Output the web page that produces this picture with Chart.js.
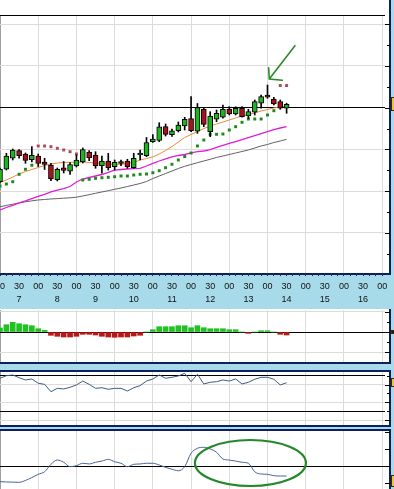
<!DOCTYPE html>
<html>
<head>
<meta charset="utf-8">
<script src="https://cdn.jsdelivr.net/npm/chart.js@4.4.1/dist/chart.umd.min.js"></script>
<style>
    html, body { margin: 0; padding: 0; }
    body {
        width: 394px; height: 489px; overflow: hidden; position: relative;
        background: #a8dbea;
    }
    .panel {
        position: absolute; left: 0; width: 389px;
        background: #fff; border-right: 2px solid #0d1f5c;
    }
    canvas { position: absolute; left: 0; }
</style>
</head>
<body>
<div class="panel" style="top:0;height:273px;border-bottom:2px solid #0d1f5c"></div>
<div class="panel" style="top:309px;height:53px;border-bottom:2px solid #0d1f5c"></div>
<div class="panel" style="top:370px;height:53px;border-top:2px solid #0d1f5c;border-bottom:2px solid #0d1f5c"></div>
<div class="panel" style="top:429px;height:60px;border-top:2px solid #0d1f5c"></div>

<canvas id="priceChart" width="394" height="309" style="top:0"></canvas>
<canvas id="macdChart" width="394" height="52" style="top:310px"></canvas>
<canvas id="rsiChart" width="394" height="53" style="top:372px"></canvas>
<canvas id="oscChart" width="394" height="58" style="top:431px"></canvas>

<script>
// Dữ liệu nến (mỗi nến 10 phút, index 0..45)
const opens  = [82.25, 85.23, 87.87, 89.69, 88.90, 87.55, 88.42, 86.98, 86.21, 82.73, 85.61, 84.77, 86.02, 86.98, 89.38, 88.66, 86.09, 87.22, 85.85, 86.86, 87.22, 85.61, 88.66, 88.49, 91.85, 92.13, 95.49, 93.53, 94.48, 95.61, 97.41, 94.36, 99.62, 94.24, 97.22, 97.70, 99.69, 98.49, 99.86, 98.01, 98.90, 101.06, 102.69, 102.09, 101.44, 99.86];
const highs  = [85.54, 89.07, 90.10, 89.98, 89.14, 90.70, 88.90, 87.87, 86.67, 85.54, 87.10, 86.81, 88.66, 90.34, 89.69, 89.45, 88.42, 89.07, 87.46, 87.46, 87.63, 89.07, 89.86, 92.85, 93.57, 96.40, 96.09, 94.89, 96.57, 97.70, 102.69, 101.01, 99.86, 99.04, 99.45, 100.65, 100.24, 100.24, 100.24, 99.62, 101.85, 103.05, 105.44, 102.49, 101.85, 101.06];
const lows   = [81.94, 85.06, 87.46, 87.87, 86.67, 86.98, 85.90, 85.18, 82.49, 82.42, 84.34, 84.03, 85.78, 86.74, 87.29, 85.47, 84.27, 85.06, 85.06, 86.09, 85.47, 85.47, 87.46, 88.25, 91.65, 91.85, 93.21, 93.09, 94.17, 94.65, 94.24, 93.86, 95.44, 93.05, 96.64, 97.46, 98.25, 98.25, 97.70, 97.46, 98.25, 99.86, 102.25, 100.65, 99.62, 98.66];
const closes = [85.23, 88.42, 89.86, 88.49, 87.34, 88.59, 86.62, 86.38, 82.90, 85.23, 84.94, 86.33, 87.46, 89.93, 87.94, 86.02, 87.22, 85.61, 86.91, 86.62, 85.85, 87.87, 88.90, 91.65, 92.49, 95.44, 93.62, 94.46, 95.85, 97.22, 94.48, 100.05, 96.02, 98.01, 98.66, 99.62, 98.49, 99.86, 97.84, 99.04, 101.44, 102.64, 102.52, 100.89, 99.86, 100.82];

// Các đường trung bình
const maFast = [82.11, 82.66, 83.38, 84.10, 84.70, 85.18, 85.66, 86.14, 86.50, 86.74, 86.86, 86.91, 86.91, 86.98, 86.86, 86.74, 86.62, 86.50, 86.43, 86.43, 86.62, 86.86, 87.46, 87.82, 88.18, 88.90, 89.74, 90.70, 91.77, 92.85, 93.57, 94.29, 95.01, 95.61, 96.09, 96.57, 97.05, 97.53, 98.01, 98.37, 98.73, 99.21, 99.57, 99.93, 100.17, 100.41];
const maMid  = [75.47, 76.07, 76.60, 77.15, 77.63, 78.18, 78.71, 79.19, 79.79, 80.26, 80.62, 81.10, 82.18, 82.90, 83.26, 83.62, 83.98, 84.51, 85.01, 85.18, 85.30, 85.40, 85.47, 86.02, 86.67, 87.22, 87.70, 88.18, 88.54, 88.78, 89.14, 89.45, 89.62, 89.93, 90.46, 90.94, 91.42, 91.89, 92.37, 92.85, 93.33, 93.81, 94.29, 94.72, 95.13, 95.44];
const maSlow = [76.26, 76.55, 76.86, 77.15, 77.43, 77.67, 77.87, 77.99, 78.11, 78.20, 78.30, 78.39, 78.54, 78.83, 79.14, 79.47, 79.79, 80.10, 80.43, 80.74, 81.10, 81.46, 81.82, 82.30, 83.02, 83.62, 84.22, 84.82, 85.42, 85.95, 86.38, 86.81, 87.22, 87.63, 88.06, 88.42, 88.78, 89.14, 89.50, 89.86, 90.34, 90.82, 91.18, 91.65, 92.01, 92.42];

// Parabolic SAR
const sar = [81.22, 81.70, 82.25, 84.03, 85.23, 86.19, 90.82, 90.82, 90.65, 90.26, 89.86, 89.45, 88.90, 82.66, 82.83, 83.07, 83.21, 83.31, 83.45, 83.62, 83.62, 83.86, 84.03, 84.10, 84.41, 84.89, 85.61, 86.43, 87.46, 88.30, 89.14, 90.82, 92.25, 93.62, 93.62, 93.69, 94.65, 95.44, 96.50, 97.29, 97.29, 97.29, 98.25, 99.28, 105.32, 105.32];

// Các chỉ báo phía dưới
const macdHist = [4, 7.3, 9.7, 8.3, 7.3, 6.3, 3.3, 1.7, -3.3, -4.3, -5, -5, -4.3, -2.3, -2.3, -3, -4.3, -5, -5.3, -5, -5, -4, -3.3, 0, 2.3, 5.3, 5.3, 5.3, 6.3, 6.3, 4.3, 6.3, 4.3, 3.3, 3.3, 3.3, 2.3, 2.3, 0, -1.3, 0, 1.3, 1.3, 0, -2.3, -3];
const rsi = [67.1, 70.0, 70.8, 67.8, 65.2, 66.3, 61.5, 60.3, 52.0, 55.8, 55.1, 57.0, 59.6, 64.0, 60.3, 55.8, 56.5, 54.7, 55.8, 55.8, 52.8, 56.5, 58.8, 64.0, 66.3, 70.8, 67.1, 68.2, 69.7, 72.7, 63.3, 71.6, 60.7, 62.6, 63.3, 65.2, 64.0, 66.3, 60.7, 62.6, 66.0, 68.2, 68.2, 66.0, 59.6, 62.1];
const osc = [-9.2, -9.4, -9.5, -9.6, -8.5, -6.8, -4.9, -3.4, 1.0, 3.5, 2.2, -0.4, 0.2, 1.6, 1.2, 2.2, 2.9, 3.9, 2.5, 1.6, -0.4, 1.0, 1.2, 1.6, 1.6, 0.6, -0.8, -1.9, -2.8, -0.4, 7.5, 10.4, 11.0, 10.0, 8.1, 4.1, 3.5, 2.9, 2.2, 1.6, -3.4, -4.7, -4.9, -5.7, -5.9, -5.9];

// Nhãn trục thời gian
const halfHourLabels = ['00', '30'];
const dayLabels = ['7', '8', '9', '10', '11', '12', '13', '14', '15', '16'];

const X_MAX = 60.45;
const GRID = '#dcdcdc';
const GREEN = '#1fb51f';
const RED = '#a8101c';

// Các hàm utility
const utils = {
    timeLabel: (v) => {
        if (v % 3 !== 0) return '';
        const k = v / 3;
        if (k % 2 === 0) return halfHourLabels[0];
        return [halfHourLabels[1], dayLabels[(k - 1) / 2]];
    },

    points: (values) => values.map((v, i) => ({ x: i, y: v })),

    xScale: (withLabels) => ({
        type: 'linear', min: 0, max: X_MAX, offset: false,
        border: { display: false },
        grid: {
            offset: false,
            drawTicks: withLabels,
            tickLength: 3,
            tickColor: '#1c2a55',
            color: ctx => {
                const v = ctx.tick ? ctx.tick.value : 1;
                if (v === 0) return '#a0a0a0';
                return v % 6 === 0 ? GRID : 'transparent';
            }
        },
        ticks: {
            display: withLabels, stepSize: 1, includeBounds: false,
            autoSkip: false, maxRotation: 0, minRotation: 0,
            padding: 3.5, color: '#111',
            font: { family: 'Liberation Sans', size: 9, lineHeight: 1.45 },
            callback: v => utils.timeLabel(v)
        },
        afterFit: s => {
            s.paddingLeft = 0;
            s.paddingRight = 0;
            s.height = withLabels ? 36 : 0;
        }
    }),

    yScale: (min, max, step, gridColor) => ({
        position: 'right', min, max,
        border: { display: false },
        grid: { drawTicks: false, color: ctx => gridColor(Math.round(ctx.tick ? ctx.tick.value : 0.5)) },
        ticks: { display: false, stepSize: step, includeBounds: false },
        afterFit: s => { s.width = 0; }
    }),

    baseOptions: (scales, top) => ({
        responsive: false,
        animation: false,
        events: [],
        layout: { autoPadding: false, padding: { top: top || 0, right: 9, left: 0, bottom: 0 } },
        plugins: { legend: { display: false }, tooltip: { enabled: false } },
        scales
    }),

    // Vạch chia ở mép phải panel
    edgeTicks: (chart, isLong) => {
        const { ctx, chartArea, scales: { y } } = chart;
        const edge = chartArea.right + 5;
        ctx.save();
        ctx.strokeStyle = '#000';
        ctx.lineWidth = 1;
        ctx.beginPath();
        y.ticks.forEach(t => {
            const py = Math.round(y.getPixelForValue(t.value)) + 0.5;
            const len = isLong(Math.round(t.value)) ? 5 : 3;
            ctx.moveTo(edge - len, py);
            ctx.lineTo(edge, py);
        });
        ctx.stroke();
        ctx.restore();
    },

    // Nhãn giá hiện tại (bị cắt ở mép phải)
    valueTag: (chart, value, color, h) => {
        const { ctx, chartArea, scales: { y } } = chart;
        const top = Math.round(y.getPixelForValue(value) - h / 2);
        ctx.save();
        ctx.fillStyle = color;
        ctx.fillRect(chartArea.right + 6, top, 12, h);
        ctx.strokeStyle = '#3a2e00';
        ctx.lineWidth = 1;
        ctx.strokeRect(chartArea.right + 6.5, top + 0.5, 12, h - 1);
        ctx.restore();
    }
};

// Class chính vẽ bảng biểu đồ
class IndicatorBoard {
    constructor() {
        this.charts = {};
        this.index = closes.map((_, i) => i);
    }

    drawAll() {
        this.drawPriceChart();
        this.drawMacdChart();
        this.drawRsiChart();
        this.drawOscChart();
    }

    // Biểu đồ nến + MA + SAR
    drawPriceChart() {
        const arrow = { tail: [46.31, 114.87], tip: [42.28, 106.88], wingA: [42.18, 109.59], wingB: [44.32, 106.57] };
        const deco = {
            id: 'priceDeco',
            afterDraw: (chart) => {
                const { ctx, chartArea, scales: { x, y } } = chart;
                ctx.save();
                ctx.strokeStyle = '#000';
                ctx.lineWidth = 1;
                ctx.beginPath();
                ctx.moveTo(chartArea.left, chartArea.top + 0.5);
                ctx.lineTo(chartArea.right, chartArea.top + 0.5);
                ctx.stroke();
                ctx.restore();

                utils.edgeTicks(chart, v => v % 10 === 0);
                utils.valueTag(chart, closes[closes.length - 1], '#f2c22e', 14);

                const p = (pt) => [x.getPixelForValue(pt[0]), y.getPixelForValue(pt[1])];
                const tail = p(arrow.tail), tip = p(arrow.tip), a = p(arrow.wingA), b = p(arrow.wingB);
                ctx.save();
                ctx.strokeStyle = '#2a8a2a';
                ctx.lineWidth = 1.6;
                ctx.lineCap = 'round';
                ctx.beginPath();
                ctx.moveTo(tail[0], tail[1]);
                ctx.lineTo(tip[0], tip[1]);
                ctx.moveTo(a[0], a[1]);
                ctx.lineTo(tip[0], tip[1]);
                ctx.lineTo(b[0], b[1]);
                ctx.stroke();
                ctx.restore();
            }
        };

        const bodyColors = this.index.map(i => closes[i] >= opens[i] ? GREEN : RED);
        const sarColors = sar.map((v, i) => v > closes[i] ? '#b04a5a' : '#1e8a1e');

        const ctx = document.getElementById('priceChart').getContext('2d');
        this.charts.price = new Chart(ctx, {
            type: 'bar',
            data: {
                datasets: [
                    { type: 'line', data: utils.points(maSlow), borderColor: '#626262', borderWidth: 1, pointRadius: 0, order: 6 },
                    { type: 'line', data: utils.points(maMid), borderColor: '#e01ed8', borderWidth: 1.3, pointRadius: 0, order: 5 },
                    { type: 'line', data: utils.points(maFast), borderColor: '#ec8a3c', borderWidth: 1, pointRadius: 0, order: 4 },
                    {
                        type: 'line', data: utils.points(sar), showLine: false,
                        pointStyle: 'rect', pointRadius: 2.1, pointBorderWidth: 0,
                        pointBackgroundColor: sarColors, order: 3
                    },
                    {
                        data: this.index.map(i => ({ x: i, y: [lows[i], highs[i]] })),
                        backgroundColor: '#000', barThickness: 1, grouped: false, order: 2
                    },
                    {
                        data: this.index.map(i => ({ x: i, y: [opens[i], closes[i]] })),
                        backgroundColor: bodyColors, borderColor: '#000', borderWidth: 1,
                        borderSkipped: false, barThickness: 5, minBarLength: 2, grouped: false, order: 1
                    }
                ]
            },
            options: utils.baseOptions({
                x: utils.xScale(true),
                y: utils.yScale(60.36, 122.23, 5, v => v === 100 ? '#000' : (v % 10 === 0 ? GRID : 'transparent'))
            }, 15),
            plugins: [deco]
        });
    }

    // Biểu đồ MACD histogram
    drawMacdChart() {
        const deco = {
            id: 'macdDeco',
            afterDraw: (chart) => {
                utils.edgeTicks(chart, v => v % 20 === 0);
                utils.valueTag(chart, 0, '#1a1a1a', 4);
            }
        };
        const ctx = document.getElementById('macdChart').getContext('2d');
        this.charts.macd = new Chart(ctx, {
            type: 'bar',
            data: {
                datasets: [{
                    data: utils.points(macdHist),
                    backgroundColor: macdHist.map(v => v >= 0 ? '#22c122' : '#b81818'),
                    barThickness: 5
                }]
            },
            options: utils.baseOptions({
                x: utils.xScale(false),
                y: utils.yScale(-30, 22, 10, v => v === 0 ? '#000' : (Math.abs(v) === 20 ? GRID : 'transparent'))
            }),
            plugins: [deco]
        });
    }

    // Biểu đồ RSI
    drawRsiChart() {
        const deco = {
            id: 'rsiDeco',
            afterDraw: (chart) => {
                utils.edgeTicks(chart, v => v % 20 === 0);
                utils.valueTag(chart, rsi[rsi.length - 1], '#f2c22e', 9);
            }
        };
        const ctx = document.getElementById('rsiChart').getContext('2d');
        this.charts.rsi = new Chart(ctx, {
            type: 'line',
            data: {
                datasets: [{ data: utils.points(rsi), borderColor: '#3d5c80', borderWidth: 1, pointRadius: 0 }]
            },
            options: utils.baseOptions({
                x: utils.xScale(false),
                y: utils.yScale(14.6, 74.16, 10, v => (v === 70 || v === 30) ? '#000' : (v % 20 === 0 ? GRID : 'transparent'))
            }),
            plugins: [deco]
        });
    }

    // Biểu đồ dao động (có vòng elip đánh dấu)
    drawOscChart() {
        const ring = { cx: 39.32, cy: 1.76, rx: 8.71, ry: 13.53 };
        const deco = {
            id: 'oscDeco',
            afterDraw: (chart) => {
                const { ctx, scales: { x, y } } = chart;
                utils.edgeTicks(chart, () => true);
                utils.valueTag(chart, osc[osc.length - 1] - 3, '#f2c22e', 12);
                const cx = x.getPixelForValue(ring.cx);
                const cy = y.getPixelForValue(ring.cy);
                const rx = x.getPixelForValue(ring.cx + ring.rx) - cx;
                const ry = y.getPixelForValue(ring.cy) - y.getPixelForValue(ring.cy + ring.ry);
                ctx.save();
                ctx.strokeStyle = '#23882a';
                ctx.lineWidth = 2.2;
                ctx.beginPath();
                ctx.ellipse(cx, cy, rx, ry, 0, 0, Math.PI * 2);
                ctx.stroke();
                ctx.restore();
            }
        };
        const ctx = document.getElementById('oscChart').getContext('2d');
        this.charts.osc = new Chart(ctx, {
            type: 'line',
            data: {
                datasets: [{
                    data: utils.points(osc), borderColor: '#4a6494', borderWidth: 1,
                    pointRadius: 0, tension: 0.35, cubicInterpolationMode: 'monotone'
                }]
            },
            options: utils.baseOptions({
                x: utils.xScale(false),
                y: utils.yScale(-13.53, 20.59, 10, v => v === 0 ? '#000' : 'transparent')
            }),
            plugins: [deco]
        });
    }
}

document.addEventListener('DOMContentLoaded', () => {
    const board = new IndicatorBoard();
    board.drawAll();
});
</script>
</body>
</html>
